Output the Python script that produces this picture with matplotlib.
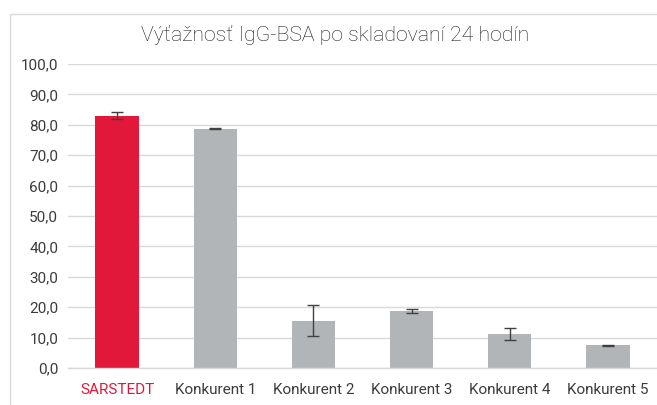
import matplotlib
matplotlib.use("Agg")
import matplotlib.pyplot as plt
from matplotlib.patches import Rectangle

categories = ["SARSTEDT", "Konkurent 1", "Konkurent 2", "Konkurent 3", "Konkurent 4", "Konkurent 5"]
values = [83.0, 78.7, 15.5, 18.7, 11.1, 7.5]
errors = [1.1, 0.2, 5.1, 0.6, 2.0, 0.15]
yticks = [0, 10, 20, 30, 40, 50, 60, 70, 80, 90, 100]
title = "Výťažnosť IgG-BSA po skladovaní 24 hodín"

red = "#E2183A"
gray = "#B2B5B7"
colors = [red] + [gray] * 5
txt = "#3C3C3C"

plt.rcParams['font.family'] = ['Roboto', 'DejaVu Sans']
fig = plt.figure(figsize=(6.57, 4.05), dpi=100)
fig.patches.append(Rectangle((10/657, -0.1), 1.2, (405-14)/405 + 0.1, transform=fig.transFigure,
                             fill=False, edgecolor="#D9D9D9", linewidth=1.0))
ax = fig.add_axes([68/657, 1-368/405, 1-68/657, (368-64)/405])
x = list(range(len(categories)))
ax.bar(x, values, width=0.44, color=colors, zorder=2)
ax.errorbar(x, values, yerr=errors, fmt='none', ecolor="#404040", elinewidth=1.0, capsize=4, capthick=1.0, zorder=3)
ax.set_xlim(-0.5, 5.5)
ax.set_ylim(0, 100)
ax.set_yticks(yticks)
ax.set_yticklabels([f"{v:.1f}".replace(".", ",") for v in yticks], fontsize=11, color=txt)
ax.set_xticks(x)
ax.set_xticklabels(categories, fontsize=11, color=txt)
ax.get_xticklabels()[0].set_color(red)
ax.tick_params(axis='both', length=0)
ax.tick_params(axis='x', pad=11)
ax.tick_params(axis='y', pad=7)
ax.grid(axis='y', color="#D9D9D9", linewidth=1.0, zorder=0)
for s in ['top', 'right', 'left']:
    ax.spines[s].set_visible(False)
ax.spines['bottom'].set_color("#D9D9D9")
ax.spines['bottom'].set_linewidth(1.0)
ax.set_axisbelow(True)
fig.text(335/657, 1-35/405, title, ha='center', va='center', fontsize=15.3, color="#1E1E1E", fontweight='light')
fig.savefig("out.png", dpi=100)
